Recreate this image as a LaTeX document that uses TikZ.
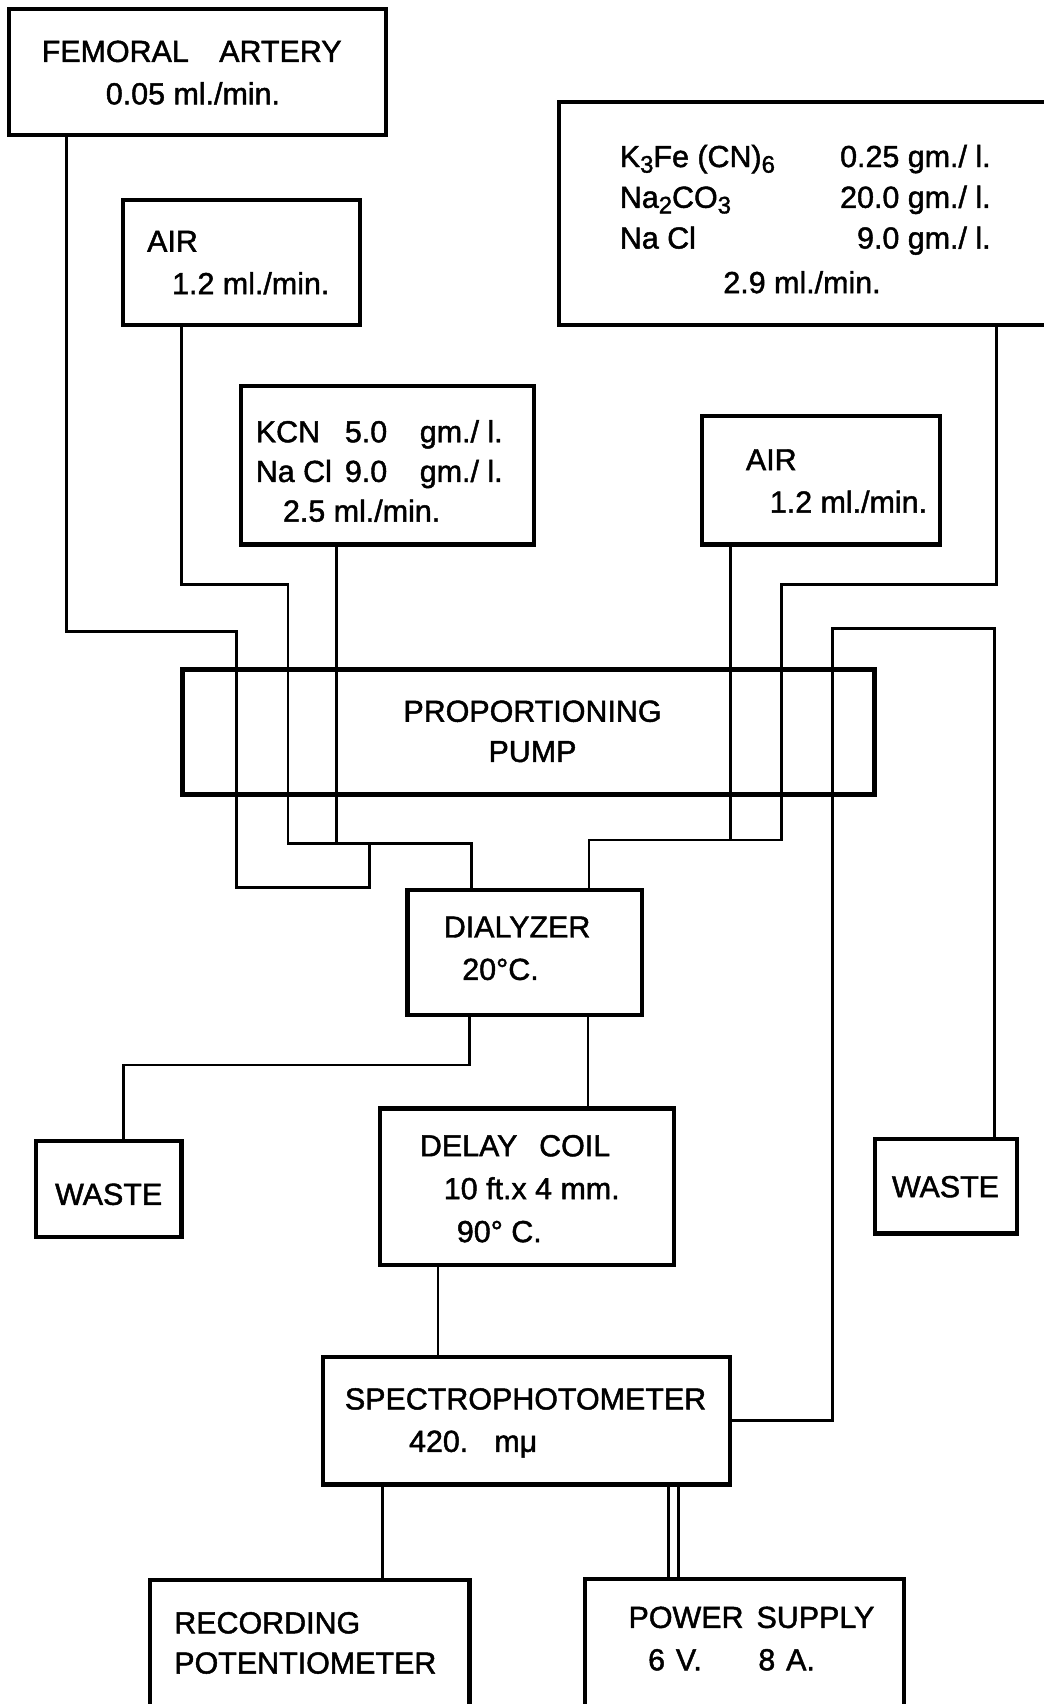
\documentclass[tikz,border=0pt]{standalone}
\usepackage{fontspec}
\setmainfont{Liberation Sans}[FakeBold=1.5]
\usetikzlibrary{fit,backgrounds}

\newcommand{\chemsub}[1]{\raisebox{-0.35ex}{\fontsize{11}{11}\selectfont #1}}

\begin{document}
\begin{tikzpicture}[
    x=0.5pt, y=-0.5pt,
    box/.style={draw=black, line width=1.9pt, inner sep=0pt},
    pumpbox/.style={box, line width=2.4pt},
    lettering/.style={inner sep=0pt, align=left, font=\fontsize{14}{19.5}\selectfont},
    tube/.style={draw=black, line width=1.3pt}
]
\useasboundingbox (0,0) rectangle (960,1568);

% boxes
\node[box, fit={(8,8) (355,124)}] (femoral) {};
\node[box, fit={(113,184) (331,299)}] (airL) {};
\node[box, fit={(514,94) (970,299)}] (sol) {};
\node[box, fit={(222,355) (491,501)}] (kcn) {};
\node[box, fit={(646,383) (865,501)}] (airR) {};
\node[pumpbox, fit={(168,616) (805,731)}] (pump) {};
\node[box, fit={(375,819) (591,934)}] (dial) {};
\node[box, fit={(33,1050) (167,1138)}] (wasteL) {};
\node[box, fit={(350,1020) (620,1164)}] (delay) {};
\node[box, fit={(805,1048) (936,1135)}] (wasteR) {};
\node[box, fit={(297,1249) (672,1366)}] (spec) {};
\node[box, fit={(138,1454) (432,1580)}] (rec) {};
\node[box, fit={(538,1453) (832,1580)}] (power) {};

% texts
\node[lettering, anchor=north west] (femoral-txt) at (38,37)
    {FEMORAL\hspace{14pt}ARTERY\\\hspace*{29.5pt}0.05 ml./min.};
\node[lettering, anchor=north west] (airL-txt) at (135,212)
    {AIR\\\hspace*{11.5pt}1.2 ml./min.};
\node[lettering, font=\fontsize{14}{18.75}\selectfont, anchor=north west] (sol-names) at (570,133)
    {K\chemsub{3}Fe (CN)\chemsub{6}\\Na\chemsub{2}CO\chemsub{3}\\Na Cl};
\node[lettering, font=\fontsize{14}{18.75}\selectfont, align=right, anchor=north east] (sol-conc) at (912,133)
    {0.25 gm./ l.\\20.0 gm./ l.\\9.0 gm./ l.};
\node[lettering, anchor=north] (sol-rate) at (738,249) {2.9 ml./min.};
\node[lettering, font=\fontsize{14}{18.25}\selectfont, anchor=north west] (kcn-txt) at (235,381)
    {\begin{tabular}{@{}l@{\hspace{6pt}}l@{\hspace{15pt}}l@{}}
     KCN & 5.0 & gm./ l.\\
     Na Cl & 9.0 & gm./ l.\\
     \multicolumn{3}{@{}l@{}}{\hspace*{12.5pt}2.5 ml./min.}
     \end{tabular}};
\node[lettering, anchor=north west] (airR-txt) at (686,413)
    {AIR\\\hspace*{11pt}1.2 ml./min.};
\node[lettering, align=center, font=\fontsize{14}{18.5}\selectfont] (pump-txt) at (490,673)
    {PROPORTIONING\\PUMP};
\node[lettering, anchor=north west] (dial-txt) at (408,843)
    {DIALYZER\\\hspace*{8.5pt}20°C.};
\node[lettering] (wasteL-txt) at (100,1099) {WASTE};
\node[lettering, font=\fontsize{14}{19.75}\selectfont, anchor=north west] (delay-txt) at (386,1044)
    {DELAY\hspace{10pt}COIL\\\hspace*{11pt}10 ft.x 4 mm.\\\hspace*{17pt}90° C.};
\node[lettering] (wasteR-txt) at (870,1092) {WASTE};
\node[lettering, anchor=north west] (spec-txt) at (317,1277)
    {SPECTROPHOTOMETER\\\hspace*{29.5pt}420.\hspace{12pt}mμ};
\node[lettering, font=\fontsize{14}{18.5}\selectfont, anchor=north west] (rec-txt) at (160,1483)
    {RECORDING\\POTENTIOMETER};
\node[lettering, anchor=north west] (power-txt) at (578,1478)
    {POWER\hspace{6pt}SUPPLY\\\hspace*{9pt}6\hspace{5pt}V.\hspace{26pt}8\hspace{5pt}A.};

% junctions on the mixing lines
\coordinate (kcn-in) at (310,776);
\coordinate (fem-in) at (340,776);
\coordinate (airR-in) at (672,773);

% tubing and wiring
\begin{scope}[on background layer]
\draw[tube] (femoral.south -| 61,0) -- (61,581) -- (218,581) -- (218,817) -- (340,817) -- (fem-in);
\draw[tube] (airL.south -| 167,0) -- (167,538) -- (265,538) -- (265,776) -- (434,776) -- (dial.north -| 434,0);
\draw[tube] (kcn.south -| kcn-in) -- (kcn-in);
\draw[tube] (airR.south -| airR-in) -- (airR-in);
\draw[tube] (sol.south -| 917,0) -- (917,538) -- (719,538) -- (719,773) -- (542,773) -- (dial.north -| 542,0);
\draw[tube] (spec.east |- 0,1307) -- (766,1307) -- (766,578) -- (915,578) -- (wasteR.north -| 915,0);
\draw[tube] (dial.south -| 432,0) -- (432,980) -- (114,980) -- (wasteL.north -| 114,0);
\draw[tube] (dial.south -| 541,0) -- (delay.north -| 541,0);
\draw[tube] (delay.south -| 403,0) -- (spec.north -| 403,0);
\draw[tube] (spec.south -| 352,0) -- (rec.north -| 352,0);
\draw[tube, double, double distance=3.4pt] (spec.south -| 619.5,0) -- (power.north -| 619.5,0);
\end{scope}
\end{tikzpicture}
\end{document}
